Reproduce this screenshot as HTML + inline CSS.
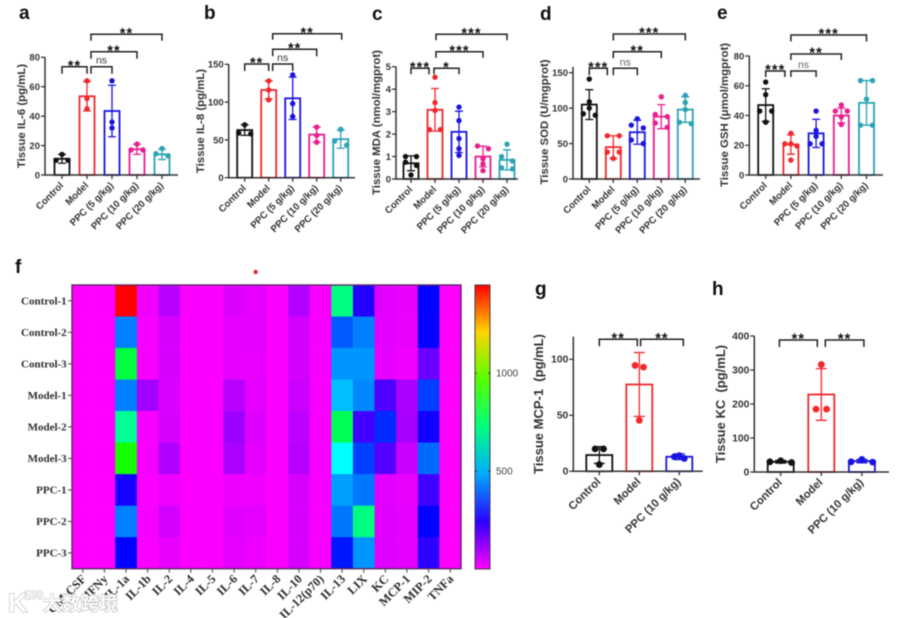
<!DOCTYPE html>
<html lang="en">
<head>
<meta charset="utf-8">
<title>Tissue cytokine and oxidative stress panels</title>
<style>
html,body{margin:0;padding:0;background:#fff;width:900px;height:618px;overflow:hidden}
#figure{display:block;filter:blur(0.55px)}
text{font-family:"Liberation Sans",sans-serif}
.serif{font-family:"Liberation Serif",serif;font-weight:bold;fill:#2e2e2e}
</style>
</head>
<body>
<svg id="figure" xmlns="http://www.w3.org/2000/svg" width="900" height="618" viewBox="0 0 900 618">
<rect width="900" height="618" fill="#fff"/>
<defs><linearGradient id="cbar" x1="0" y1="1" x2="0" y2="0"></linearGradient></defs>
</svg>
<script>
/* ---------- data ---------- */
const fiveGroups = ['Control','Model','PPC (5 g/kg)','PPC (10 g/kg)','PPC (20 g/kg)'];
const threeGroups = ['Control','Model','PPC (10 g/kg)'];

const aTicks = [0,20,40,60,80];
const aMeans = [11,53.5,43.5,17.5,14];
const aErrors = [3,10,17.5,3.5,3.5];
const aPoints = [[14,10,10],[64,52,45],[64,36,32],[21,17,17],[18,14.5,13]];

const bTicks = [0,50,100,150];
const bMeans = [63,116,105,57,51];
const bErrors = [7,12,28,10,12];
const bPoints = [[70,58,59],[128,116,103],[136,98,81],[67,56,47],[64,48.5,43]];

const cTicks = [0,1,2,3,4,5];
const cMeans = [0.7,3.08,2.1,1.0,0.85];
const cErrors = [0.33,0.95,0.92,0.46,0.45];
const cPoints = [[1.0,1.0,0.75,0.6,0.18],[4.53,3.4,3.05,2.2,2.2],[3.2,2.6,1.8,1.35,1.05],[1.47,1.35,0.9,0.67,0.37],[1.55,1.0,0.8,0.5,0.45]];

const dTicks = [0,50,100,150];
const dMeans = [105,45,66,88,98];
const dErrors = [21,16,17,17,18];
const dPoints = [[141,109,100,92,90],[61,61,38,38,29],[85,76,72,55,50],[116,91,88,79,73],[118,108,98,80,78]];

const eTicks = [0,20,40,60,80];
const eMeans = [47,20.5,28,40,48.5];
const eErrors = [11,6.5,9.5,5,15];
const ePoints = [[62.5,54,43,43,35.5],[28,21,21,19.5,10],[43,30,26,21,21],[47,43,43,39,34],[63.5,63.5,51,33.5,33.5]];

const gTicks = [0,50,100];
const gMeans = [14.5,77.5,13];
const gErrors = [7.5,28.5,2.5];
const gPoints = [[20,20,6],[94.5,93,45.5],[14,13,11.5]];

const hTicks = [0,100,200,300,400];
const hMeans = [30,228,32];
const hErrors = [4,76,5];
const hPoints = [[33,30,28],[316,185,185],[37,30,29]];

const heatRows = ['Control-1','Control-2','Control-3','Model-1','Model-2','Model-3','PPC-1','PPC-2','PPC-3'];
const heatCols = ['GM-CSF','IFNy','IL-1a','IL-1b','IL-2','IL-4','IL-5','IL-6','IL-7','IL-8','IL-10','IL-12(p70)','IL-13','LIX','KC','MCP-1','MIP-2','TNFa'];
const heatValues = [
 [0,0,1450,15,80,3,3,38,28,3,85,8,725,250,32,24,290,0],
 [0,0,435,10,45,3,3,28,28,3,52,8,395,435,32,24,285,0],
 [0,0,798,10,45,3,3,28,25,3,52,8,460,460,28,15,170,0],
 [0,0,435,105,42,3,3,80,28,3,58,8,507,445,203,97,362,0],
 [0,0,700,10,45,3,3,110,38,3,75,8,773,217,338,100,270,0],
 [0,0,894,10,90,3,3,95,32,3,80,8,580,362,193,60,410,0],
 [0,0,265,6,18,3,3,20,16,3,45,8,470,425,32,24,217,0],
 [0,0,435,10,50,3,3,34,30,3,45,8,425,725,36,28,290,0],
 [0,0,290,6,25,3,3,28,20,3,45,8,315,460,36,28,240,0]
];
const colorbarMax = 1450;
const colorbarTicks = [500,1000];

/* ---------- layout ---------- */
const colors5 = ['#111','#f0282c','#1a14e0','#e81f8f','#2aa3b5'];
const colors3 = ['#111','#f0282c','#1a14e0'];
const panels = [
 {id:'a',letter:[19,19],title:'Tissue IL-6 (pg/mL)',tx:25,ty:116,tfs:11.4,axisX:45,y0:175,yTop:57.3,maxV:80,axisTop:57.3,axisEnd:178,c0:62,step:25,bw:15,cap:8,r:2.7,swarm:6,swarm3:6,nsFill:'#333',groups:fiveGroups,colors:colors5,ticks:aTicks,means:aMeans,errs:aErrors,pts:aPoints,lfs:9.7,tfsY:9.5,
  br:[{a:0,b:1,d1:0,d2:0,y:66.7,drop:7,l:'**'},{a:1,b:2,d1:4,d2:0,y:66.7,drop:7,l:'ns'},{a:1,b:3,d1:4,d2:0,y:51.7,drop:7,l:'**'},{a:1,b:4,d1:4,d2:0,y:34.3,drop:6.5,l:'**'}]},
 {id:'b',letter:[204,19],title:'Tissue IL-8 (pg/mL)',tx:204,ty:121,tfs:11.4,axisX:228.7,y0:177.7,yTop:64.3,maxV:150,axisTop:64.3,axisEnd:355,c0:244.7,step:24,bw:15,cap:8,r:2.7,swarm:6,swarm3:6,nsFill:'#333',groups:fiveGroups,colors:colors5,ticks:bTicks,means:bMeans,errs:bErrors,pts:bPoints,lfs:9.7,tfsY:9.5,
  br:[{a:0,b:1,d1:0,d2:0,y:64,drop:7,l:'**'},{a:1,b:2,d1:4,d2:0,y:64,drop:7,l:'ns'},{a:1,b:3,d1:4,d2:0,y:49.3,drop:7,l:'**'},{a:1,b:4,d1:4,d2:1,y:33.7,drop:6,l:'**'}]},
 {id:'c',letter:[372,20],title:'Tissue MDA (nmol/mgprot)',tx:380,ty:122.5,tfs:11.4,axisX:396,y0:179,yTop:66.7,maxV:5,axisTop:66.7,axisEnd:518,c0:411,step:24,bw:15,cap:8,r:2.7,swarm:5.5,swarm3:5.5,nsFill:'#333',groups:fiveGroups,colors:colors5,ticks:cTicks,means:cMeans,errs:cErrors,pts:cPoints,lfs:9.7,tfsY:9.5,
  br:[{a:0,b:1,d1:0,d2:-6,y:68.3,drop:6,l:'***'},{a:1,b:2,d1:-1,d2:0,y:68.3,drop:6,l:'*'},{a:1,b:3,d1:1,d2:0,y:51.7,drop:6,l:'***'},{a:1,b:4,d1:1,d2:0,y:34.3,drop:6,l:'***'}]},
 {id:'d',letter:[540,20],title:'Tissue SOD (U/mgprot)',tx:548,ty:122,tfs:11.4,axisX:573,y0:179,yTop:72.7,maxV:150,axisTop:66.7,axisEnd:700,c0:589.3,step:24,bw:15,cap:8,r:2.7,swarm:6,swarm3:6,nsFill:'#666',groups:fiveGroups,colors:colors5,ticks:dTicks,means:dMeans,errs:dErrors,pts:dPoints,lfs:9.7,tfsY:9.5,
  br:[{a:0,b:1,d1:0,d2:-6,y:68.3,drop:7,l:'***'},{a:1,b:2,d1:0,d2:0,y:68.3,drop:7,l:'ns'},{a:1,b:3,d1:0,d2:0,y:51.7,drop:6.5,l:'**'},{a:1,b:4,d1:0,d2:0,y:34,drop:6.5,l:'***'}]},
 {id:'e',letter:[717,19],title:'Tissue GSH (μmol/mgprot)',tx:728,ty:115,tfs:11.4,axisX:749.3,y0:175,yTop:56,maxV:80,axisTop:56,axisEnd:883,c0:765.7,step:25.2,bw:15,cap:8,r:2.7,swarm:6,swarm3:6,nsFill:'#666',groups:fiveGroups,colors:colors5,ticks:eTicks,means:eMeans,errs:eErrors,pts:ePoints,lfs:9.7,tfsY:9.5,
  br:[{a:0,b:1,d1:0,d2:-6,y:71,drop:6,l:'***'},{a:1,b:2,d1:0,d2:0,y:71,drop:6,l:'ns'},{a:1,b:3,d1:0,d2:0,y:54,drop:6,l:'**'},{a:1,b:4,d1:0,d2:0,y:35,drop:6.5,l:'***'}]},
 {id:'g',letter:[535,295],title:'Tissue MCP-1\u00a0\u00a0(pg/mL)',tx:543,ty:404,tfs:13,axisX:573.3,y0:471.3,yTop:359.3,maxV:100,axisTop:336.7,axisEnd:702.7,c0:599.3,step:40,bw:26,cap:11,r:3.4,swarm:4.2,swarm3:5,nsFill:'#333',groups:threeGroups,colors:colors3,ticks:gTicks,means:gMeans,errs:gErrors,pts:gPoints,lfs:11.3,tfsY:10.3,
  br:[{a:0,b:1,d1:0,d2:-2,y:339.3,drop:7,l:'**'},{a:1,b:2,d1:1.3,d2:4,y:339.3,drop:7,l:'**'}]},
 {id:'h',letter:[712,295],title:'Tissue KC\u00a0\u00a0(pg/mL)',tx:725,ty:404,tfs:13,axisX:754.3,y0:472,yTop:336,maxV:400,axisTop:336,axisEnd:889,c0:780.7,step:40.6,bw:26,cap:11,r:3.4,swarm:5.3,swarm3:10.8,nsFill:'#333',groups:threeGroups,colors:colors3,ticks:hTicks,means:hMeans,errs:hErrors,pts:hPoints,lfs:11.3,tfsY:10.3,
  br:[{a:0,b:1,d1:-1.3,d2:-4,y:340,drop:7,l:'**'},{a:1,b:2,d1:4,d2:2,y:340,drop:7,l:'**'}]}
];

/* ---------- helpers ---------- */
const root = document.getElementById('figure');
const NS = 'http://www.w3.org/2000/svg';
function mk(tag, parent, attrs, txt){
  const n = document.createElementNS(NS, tag);
  for(const k in attrs) n.setAttribute(k, attrs[k]);
  if(txt !== undefined) n.textContent = txt;
  parent.appendChild(n);
  return n;
}

function clusterOffset(n, k, p){
  if(n === 1) return 0;
  if(n === 2) return (k === 0 ? -1 : 1) * p.swarm;
  if(n === 3) return [0, -1, 1][k] * p.swarm3;
  return (k - (n - 1) / 2) * p.swarm;
}

function drawPanel(p){
  const yScale = v => p.y0 - v*(p.y0-p.yTop)/p.maxV;
  const xScale = i => p.c0 + i*p.step;

  const g = mk('g', root, {});
  
  

  const letter = mk('text', g, {x:p.letter[0],y:p.letter[1],'font-size':19,'font-weight':'bold',fill:'#111'}, p.id);
  
  

  const title = mk('text', g, {transform:`translate(${p.tx},${p.ty}) rotate(-90)`,'text-anchor':'middle','font-size':p.tfs,'font-weight':'bold',fill:'#333'}, p.title);
  
  

  p.means.forEach((m,i)=>{
    const cx = xScale(i), col = p.colors[i], top = yScale(m);
    const bar = mk('rect', g, {x:cx-p.bw/2,y:top,width:p.bw,height:p.y0-top,fill:'#fff',stroke:col,'stroke-width':1.8});
    
    

    const hi = yScale(m+p.errs[i]), lo = yScale(Math.max(0,m-p.errs[i]));
    const err = mk('path', g, {d:`M${cx} ${hi}V${lo}M${cx-p.cap/2} ${hi}H${cx+p.cap/2}M${cx-p.cap/2} ${lo}H${cx+p.cap/2}`,fill:'none',stroke:col,'stroke-width':1.3});
    
    

    // group nearby values into clusters and spread each cluster symmetrically
    const sorted = p.pts[i].slice().sort((a,b)=>b-a);
    const clusters = [];
    sorted.forEach(v=>{
      const last = clusters[clusters.length-1];
      if(last && Math.abs(yScale(last[last.length-1])-yScale(v)) < 4.6) last.push(v);
      else clusters.push([v]);
    });
    clusters.forEach(cl=>{
      cl.forEach((v,k)=>{
        const off = clusterOffset(cl.length, k, p);
        const dot = mk('circle', g, {cx:cx+off,cy:yScale(v),r:p.r,fill:col});
        
        
      });
    });

    const xt = mk('line', g, {x1:cx,x2:cx,y1:p.y0,y2:p.y0+4,stroke:'#333','stroke-width':1.3});
    
    

    const xl = mk('text', g, {transform:`translate(${cx+2},${p.y0+11}) rotate(-45)`,'text-anchor':'end','font-size':p.lfs,'font-weight':'bold',fill:'#333'}, p.groups[i]);
    
    
  });

  const axes = mk('path', g, {d:`M${p.axisX} ${p.axisTop}V${p.y0}H${p.axisEnd}`,fill:'none',stroke:'#333','stroke-width':1.5});
  
  

  p.ticks.forEach(t=>{
    const y = yScale(t);
    const tk = mk('line', g, {x1:p.axisX-4,x2:p.axisX,y1:y,y2:y,stroke:'#333','stroke-width':1.3});
    
    
    const tl = mk('text', g, {x:p.axisX-5,y:y+3.4,'text-anchor':'end','font-size':p.tfsY,'font-weight':'bold',fill:'#333'}, t);
    
    
  });

  p.br.forEach(b=>{
    const x1 = xScale(b.a)+b.d1, x2 = xScale(b.b)+b.d2;
    const br = mk('path', g, {d:`M${x1} ${b.y+b.drop}V${b.y}H${x2}V${b.y+b.drop}`,fill:'none',stroke:'#222','stroke-width':1.5});
    
    
    const isNs = b.l==='ns';
    const lab = mk('text', g, {x:(x1+x2)/2,y:isNs? b.y-3 : b.y+3.6,'text-anchor':'middle','font-size':isNs?10.5:14.5,'font-weight':isNs?'normal':'bold','letter-spacing':isNs?0:1.1,fill:isNs?p.nsFill:'#111'}, b.l);
    
    
  });
}
panels.forEach(drawPanel);

/* ---------- heatmap ---------- */
const heat = {left:72,top:285,right:461,bottom:568.7};
const cb = {left:475,right:490,top:285,bottom:569};
const colorOf = v => `hsl(${300*(1-Math.min(1,v/colorbarMax))},100%,50%)`;
const heatX = c => heat.left + c*(heat.right-heat.left)/heatCols.length;
const heatY = r => heat.top + r*(heat.bottom-heat.top)/heatRows.length;
const cbY = v => cb.bottom - v/colorbarMax*(cb.bottom-cb.top);

const hg = mk('g', root, {});



const fLetter = mk('text', hg, {x:15,y:273,'font-size':19,'font-weight':'bold',fill:'#111'}, 'f');



const redDot = mk('circle', hg, {cx:255.7,cy:272,r:2.2,fill:'#e8262a'});



heatValues.forEach((row,r)=>{
  row.forEach((v,c)=>{
    const cell = mk('rect', hg, {x:heatX(c),y:heatY(r),width:heatX(c+1)-heatX(c)+0.3,height:heatY(r+1)-heatY(r)+0.3,fill:colorOf(v)});
    
    
  });
});
const frame = mk('rect', hg, {x:heat.left,y:heat.top,width:heat.right-heat.left,height:heat.bottom-heat.top,fill:'none',stroke:'#5a2a66','stroke-width':1.4});



heatRows.forEach((lab,r)=>{
  const y = (heatY(r)+heatY(r+1))/2;
  const t = mk('line', hg, {x1:heat.left-4,x2:heat.left,y1:y,y2:y,stroke:'#444','stroke-width':1});
  
  
  const l = mk('text', hg, {x:heat.left-5.3,y:y+3.6,'text-anchor':'end','font-size':11,class:'serif'}, lab);
  
  
});
heatCols.forEach((lab,c)=>{
  const x = (heatX(c)+heatX(c+1))/2;
  const t = mk('line', hg, {x1:x,x2:x,y1:heat.bottom,y2:heat.bottom+4,stroke:'#444','stroke-width':1});
  
  
  const l = mk('text', hg, {transform:`translate(${x+4},${heat.bottom+11}) rotate(-45)`,'text-anchor':'end','font-size':12.3,class:'serif'}, lab);
  
  
});

const grad = document.getElementById('cbar');
for(let i=0;i<=6;i++){
  mk('stop', grad, {offset:(i/6),'stop-color':colorOf(colorbarMax*i/6)});
}
const bar = mk('rect', hg, {x:cb.left,y:cb.top,width:cb.right-cb.left,height:cb.bottom-cb.top,fill:'url(#cbar)',stroke:'#4a3a4a','stroke-width':1});


colorbarTicks.forEach(v=>{
  const y = cbY(v);
  const t = mk('path', hg, {d:`M${cb.left} ${y}h2M${cb.right-2} ${y}h2`,stroke:'#333','stroke-width':1,fill:'none'});
  
  
  const l = mk('text', hg, {x:cb.right+6,y:y+3.6,'font-size':10,fill:'#444'}, v);
  
  
});

/* ---------- watermark ---------- */
const wm = mk('g', root, {});


const wmK = mk('text', wm, {x:8,y:612,'font-size':27,'font-weight':'bold',fill:'#fff',stroke:'#b5b5b5','stroke-width':1.1,'paint-order':'stroke'}, 'K');


const wmO = mk('text', wm, {x:24,y:599,'font-size':11.5,'font-weight':'bold',fill:'#fff',stroke:'#b5b5b5','stroke-width':0.9,'paint-order':'stroke'}, '100');


const wmT = mk('text', wm, {x:43,y:610,'font-size':18.8,'font-weight':'bold',fill:'#fff',stroke:'#b0b0b0','stroke-width':1.1,'paint-order':'stroke',style:'font-family:"Liberation Sans","Noto Sans CJK SC",sans-serif'}, '大数跨境');


</script>
</body>
</html>
